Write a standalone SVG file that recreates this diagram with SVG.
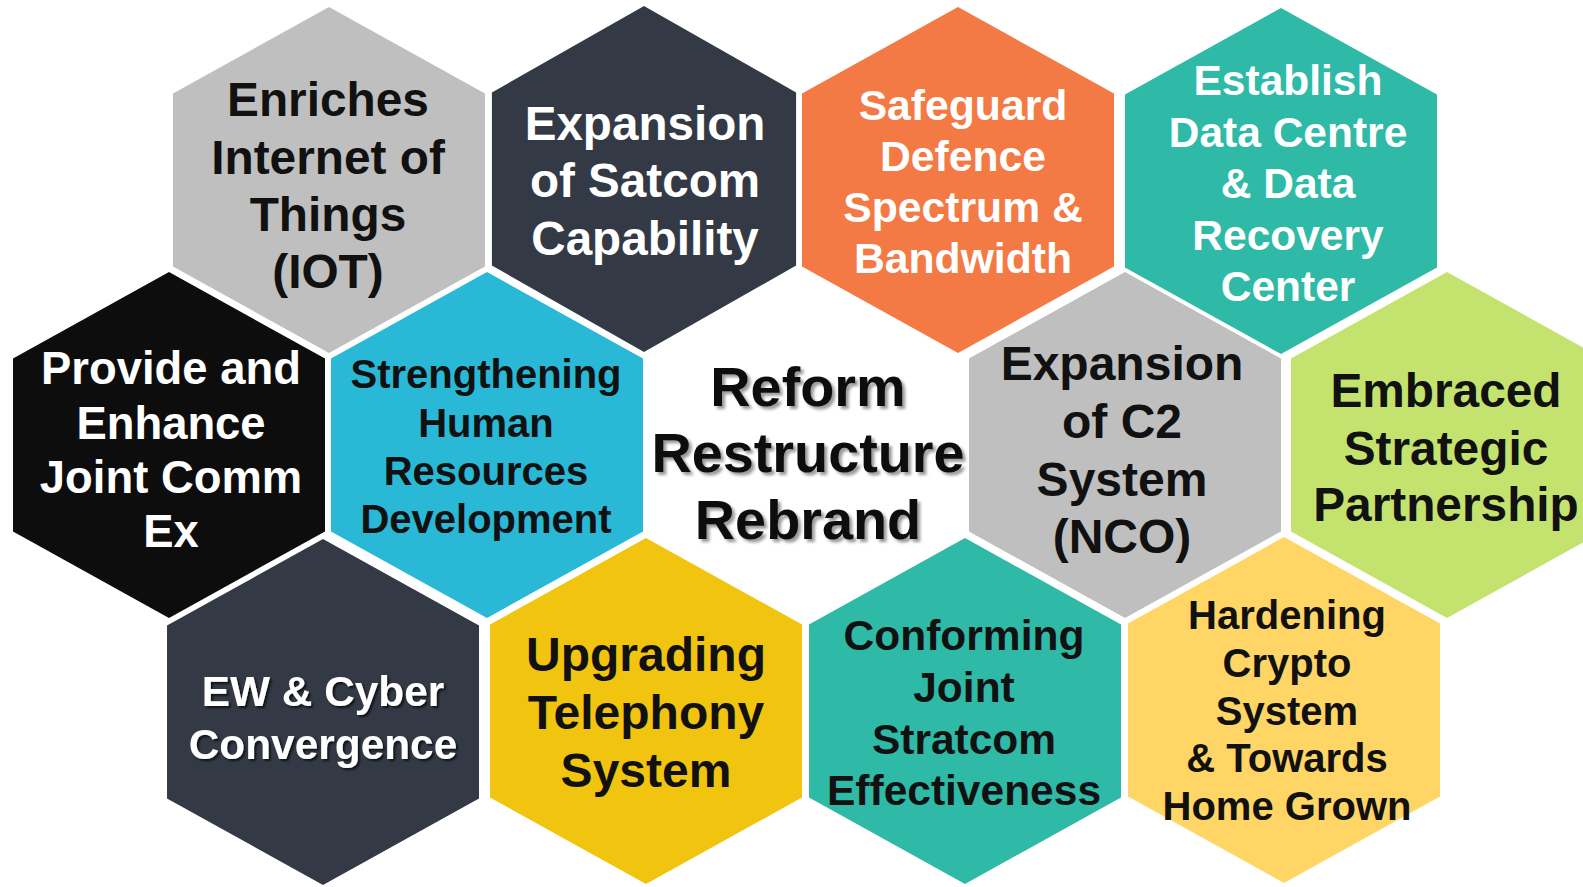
<svg xmlns="http://www.w3.org/2000/svg" xmlns:xlink="http://www.w3.org/1999/xlink" width="1583" height="887" viewBox="0 0 1583 887">
<style>
  text { font-family: "Liberation Sans", Arial, sans-serif; font-weight: bold; text-anchor: middle; }
  .w { fill: #ffffff; }
  .k { fill: #111111; }
  .gray { fill: #bfbfbf; }
  .slate { fill: #333a46; }
  .orange { fill: #f37a44; }
  .teal { fill: #2fb9a7; }
  .black { fill: #0d0d0d; }
  .cyan { fill: #29b8d5; }
  .green { fill: #c4e36e; }
  .yellow { fill: #f1c40f; }
  .lyellow { fill: #ffd566; }
</style>
<defs>
  <polygon id="hex" points="0,-173 156,-86.5 156,86.5 0,173 -156,86.5 -156,-86.5"/>
  <filter id="shGray" x="-10%" y="-20%" width="120%" height="140%">
    <feDropShadow dx="3" dy="3" stdDeviation="1.6" flood-color="#000" flood-opacity="0.4"/>
  </filter>
  <filter id="shDark" x="-10%" y="-20%" width="120%" height="140%">
    <feDropShadow dx="2" dy="2" stdDeviation="1.2" flood-color="#000" flood-opacity="0.7"/>
  </filter>
</defs>
<rect width="1583" height="887" fill="#ffffff"/>
<g id="connectors"/>

<g id="n-iot">
  <use xlink:href="#hex" href="#hex" class="gray" x="329" y="180"/>
  <g class="k" font-size="47.8">
    <text x="328" y="116">Enriches</text>
    <text x="328" y="174">Internet of</text>
    <text x="328" y="231">Things</text>
    <text x="328" y="288">(IOT)</text>
  </g>
</g>

<g id="n-satcom">
  <use xlink:href="#hex" href="#hex" class="slate" transform="translate(644,179) scale(0.975,1)"/>
  <g class="w" font-size="47.6">
    <text x="645" y="140">Expansion</text>
    <text x="645" y="197">of Satcom</text>
    <text x="645" y="255">Capability</text>
  </g>
</g>

<g id="n-spectrum">
  <use xlink:href="#hex" href="#hex" class="orange" x="958" y="180"/>
  <g class="w" font-size="42.7">
    <text x="963" y="120">Safeguard</text>
    <text x="963" y="171">Defence</text>
    <text x="963" y="222">Spectrum &amp;</text>
    <text x="963" y="273">Bandwidth</text>
  </g>
</g>

<g id="n-datacentre">
  <use xlink:href="#hex" href="#hex" class="teal" x="1281" y="181"/>
  <g class="w" font-size="42.5">
    <text x="1288" y="95">Establish</text>
    <text x="1288" y="147">Data Centre</text>
    <text x="1288" y="198">&amp; Data</text>
    <text x="1288" y="250">Recovery</text>
    <text x="1288" y="301">Center</text>
  </g>
</g>

<g id="n-jointcomm">
  <use xlink:href="#hex" href="#hex" class="black" x="169" y="445"/>
  <g class="w" font-size="45.4">
    <text x="171" y="384">Provide and</text>
    <text x="171" y="439">Enhance</text>
    <text x="171" y="493">Joint Comm</text>
    <text x="171" y="547">Ex</text>
  </g>
</g>

<g id="n-hr">
  <use xlink:href="#hex" href="#hex" class="cyan" x="487" y="445"/>
  <g class="k" font-size="40">
    <text x="486" y="388">Strengthening</text>
    <text x="486" y="437">Human</text>
    <text x="486" y="485">Resources</text>
    <text x="486" y="533">Development</text>
  </g>
</g>

<g id="n-center" filter="url(#shGray)">
  <g class="k" font-size="55.8">
    <text x="808" y="406">Reform</text>
    <text x="808" y="472">Restructure</text>
    <text x="808" y="539">Rebrand</text>
  </g>
</g>

<g id="n-c2">
  <use xlink:href="#hex" href="#hex" class="gray" x="1125" y="445"/>
  <g class="k" font-size="48">
    <text x="1122" y="380">Expansion</text>
    <text x="1122" y="438">of C2</text>
    <text x="1122" y="496">System</text>
    <text x="1122" y="553">(NCO)</text>
  </g>
</g>

<g id="n-partnership">
  <use xlink:href="#hex" href="#hex" class="green" x="1447" y="445"/>
  <g class="k" font-size="47.8">
    <text x="1446" y="407">Embraced</text>
    <text x="1446" y="465">Strategic</text>
    <text x="1446" y="521">Partnership</text>
  </g>
</g>

<g id="n-ewcyber">
  <use xlink:href="#hex" href="#hex" class="slate" x="323" y="712"/>
  <g class="w" font-size="42.4" filter="url(#shDark)">
    <text x="323" y="706">EW &amp; Cyber</text>
    <text x="323" y="759">Convergence</text>
  </g>
</g>

<g id="n-telephony">
  <use xlink:href="#hex" href="#hex" class="yellow" x="646" y="711"/>
  <g class="k" font-size="48">
    <text x="646" y="671">Upgrading</text>
    <text x="646" y="729">Telephony</text>
    <text x="646" y="787">System</text>
  </g>
</g>

<g id="n-stratcom">
  <use xlink:href="#hex" href="#hex" class="teal" x="965" y="711"/>
  <g class="k" font-size="42.5">
    <text x="964" y="650">Conforming</text>
    <text x="964" y="702">Joint</text>
    <text x="964" y="754">Stratcom</text>
    <text x="964" y="805">Effectiveness</text>
  </g>
</g>

<g id="n-crypto">
  <use xlink:href="#hex" href="#hex" class="lyellow" x="1284" y="710"/>
  <g class="k" font-size="40">
    <text x="1287" y="629">Hardening</text>
    <text x="1287" y="677">Crypto</text>
    <text x="1287" y="725">System</text>
    <text x="1287" y="772">&amp; Towards</text>
    <text x="1287" y="820">Home Grown</text>
  </g>
</g>
</svg>
